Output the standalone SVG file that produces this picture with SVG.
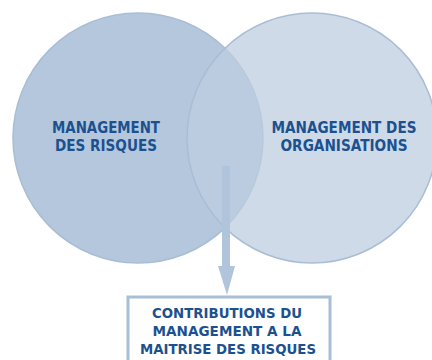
<svg xmlns="http://www.w3.org/2000/svg" width="432" height="360" viewBox="0 0 432 360">
<style>
.lbl{font-family:"DejaVu Sans Condensed","DejaVu Sans","Liberation Sans",sans-serif;font-weight:bold;font-size:15px;fill:#1c5190;text-anchor:middle}
.box{font-family:"DejaVu Sans Condensed","DejaVu Sans","Liberation Sans",sans-serif;font-weight:bold;font-size:14px;fill:#1c5190;text-anchor:middle}
</style>
<rect width="432" height="360" fill="#ffffff"/>
<g id="risques">
<circle cx="138" cy="138" r="125" fill="#b4c7dd" stroke="#a9bdd5" stroke-width="1.5"/>
</g>
<g id="organisations">
<circle cx="312" cy="138" r="125" fill="#bdcde0" fill-opacity="0.75" stroke="#a9bdd5" stroke-width="1.5"/>
<text class="lbl" x="344" y="133" textLength="145" lengthAdjust="spacingAndGlyphs">MANAGEMENT DES</text>
<text class="lbl" x="344" y="151" textLength="127" lengthAdjust="spacingAndGlyphs">ORGANISATIONS</text>
</g>
<g id="risques-label">
<text class="lbl" x="106" y="133" textLength="108" lengthAdjust="spacingAndGlyphs">MANAGEMENT</text>
<text class="lbl" x="106" y="151" textLength="102" lengthAdjust="spacingAndGlyphs">DES RISQUES</text>
</g>
<g id="connectors">
<rect x="222" y="166" width="8" height="102" fill="#b0c4dc"/>
<polygon points="218,266 235,266 227,295" fill="#b0c4dc"/>
</g>
<g id="contributions">
<rect x="128" y="297" width="202" height="70" fill="#ffffff" stroke="#a8bdd6" stroke-width="3"/>
<text class="box" x="227" y="318" textLength="150" lengthAdjust="spacingAndGlyphs">CONTRIBUTIONS DU</text>
<text class="box" x="227" y="336" textLength="149" lengthAdjust="spacingAndGlyphs">MANAGEMENT A LA</text>
<text class="box" x="228" y="354" textLength="176" lengthAdjust="spacingAndGlyphs">MAITRISE DES RISQUES</text>
</g>
</svg>
